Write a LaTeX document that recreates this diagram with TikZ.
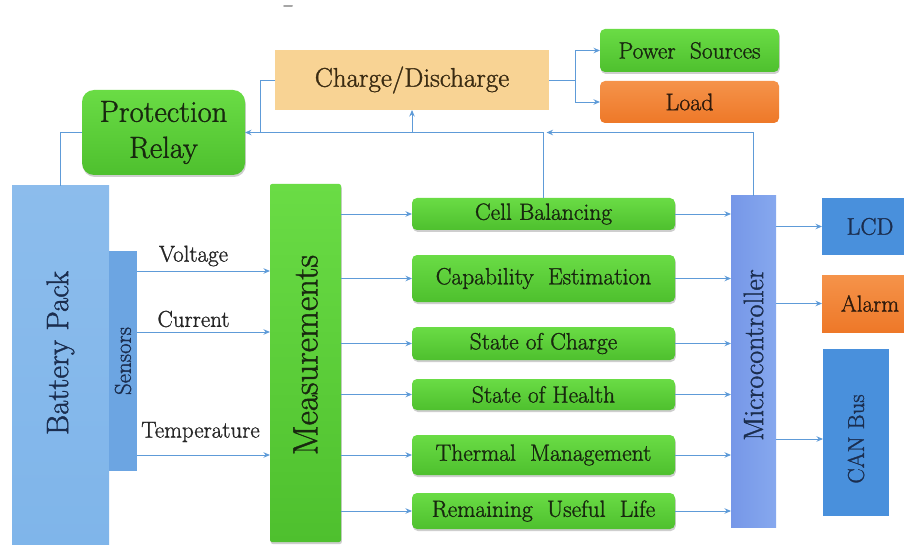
\documentclass[tikz,border=0pt]{standalone}
\usepackage{fontspec}
\usepackage{graphicx}
\setmainfont{Latin Modern Roman}[FakeBold=1.2]
\usetikzlibrary{arrows.meta,calc,shadows}

\definecolor{wireC}{HTML}{5E9BD8}
\definecolor{grnA}{HTML}{6ADC45}
\definecolor{grnB}{HTML}{4EC02E}
\definecolor{grnText}{HTML}{18280F}
\definecolor{chgFill}{HTML}{F8D394}
\definecolor{chgText}{HTML}{3A2B12}
\definecolor{orgA}{HTML}{F5934A}
\definecolor{orgB}{HTML}{EE7828}
\definecolor{orgText}{HTML}{2E1A0C}
\definecolor{batFill}{HTML}{7FB5EA}
\definecolor{senFill}{HTML}{6CA5E2}
\definecolor{mcA}{HTML}{7697E8}
\definecolor{mcB}{HTML}{86A8EE}
\definecolor{outFill}{HTML}{4990DC}
\definecolor{bluText}{HTML}{1B2D4E}

\begin{document}
\begin{tikzpicture}[x=1pt,y=-1pt,
  box/.style={inner sep=0pt, outer sep=0pt, align=center},
  greenbox/.style={box, rounded corners=5pt, top color=grnA, bottom color=grnB,
    text=grnText,
    drop shadow={shadow xshift=0.8pt, shadow yshift=-2pt, opacity=0.35, fill=black!55}},
  funcbox/.style={greenbox, minimum width=263pt, font=\fontsize{23.5}{26}\selectfont},
  bluebox/.style={box, fill=outFill, text=bluText},
  orangebox/.style={box, top color=orgA, bottom color=orgB, text=orgText},
  wire/.style={draw=wireC, line width=0.9pt},
  arr/.style={wire, -{Stealth[length=6.5pt,width=5.5pt]}},
  sig/.style={font=\fontsize{23}{25}\selectfont, text=black!85}
]
\path[use as bounding box] (0,0) rectangle (904,545);
\begin{scope}
\clip (0,0) rectangle (904,545);
\fill[white] (0,0) rectangle (904,545);

% small mark at the top edge
\draw[gray!70, line width=2pt, line cap=round] (284,6.5) -- (292,6.5);

% ---- upper row: power path ----
\node[box, fill=chgFill, text=chgText, minimum width=274pt, minimum height=60pt,
      font=\fontsize{27}{30}\selectfont] (chg) at (412,80) {Charge/Discharge};
\node[greenbox, minimum width=179pt, minimum height=43pt,
      font=\fontsize{23.5}{26}\selectfont] (pow) at (689.5,50.5) {Power\ \ Sources};
\node[orangebox, rounded corners=5pt, minimum width=179pt, minimum height=42pt,
      font=\fontsize{24}{26}\selectfont] (load) at (689.5,102) {Load};
\node[greenbox, rounded corners=12pt, minimum width=163pt, minimum height=85pt,
      font=\fontsize{30.5}{36}\selectfont] (relay) at (163.5,132.5) {Protection\\Relay};

% ---- pack and sensing ----
\node[box, top color=batFill!90!white, bottom color=batFill, minimum width=97pt, minimum height=362pt,
      text=bluText, font=\fontsize{31}{34}\selectfont] (bat) at (60.5,367) {\rotatebox{90}{\hspace{28pt}Battery Pack}};
\node[box, fill=senFill, minimum width=28pt, minimum height=219pt,
      text=bluText, font=\fontsize{23}{25}\selectfont] (sens) at (123,361) {\rotatebox{90}{Sensors}};
\node[greenbox, rounded corners=2pt, minimum width=71pt, minimum height=358pt,
      font=\fontsize{35}{38}\selectfont] (meas) at (305.5,363) {\rotatebox{90}{\hspace{16pt}Measurements}};

% ---- estimation functions ----
\node[funcbox, minimum height=32pt] (cb)  at (543.5,214)   {Cell Balancing};
\node[funcbox, minimum height=47pt] (ce)  at (543.5,278.5) {Capability\ \ Estimation};
\node[funcbox, minimum height=33pt] (soc) at (543.5,343.5) {State of Charge};
\node[funcbox, minimum height=31pt] (soh) at (543.5,394.5) {State of Health};
\node[funcbox, minimum height=40pt] (tm)  at (543.5,455)   {Thermal\ \ Management};
\node[funcbox, minimum height=36pt] (rul) at (543.5,511)   {Remaining\ \ Useful\ \ Life};

% ---- controller and outputs ----
\node[box, left color=mcA, right color=mcB, minimum width=45pt, minimum height=331pt,
      text=bluText, font=\fontsize{28}{30}\selectfont] (mc) at (753.5,361.5) {\rotatebox{90}{\hspace{13pt}Microcontroller}};
\node[bluebox, minimum width=96pt, minimum height=57pt,
      font=\fontsize{24}{26}\selectfont] (lcd) at (870,226.5) {LCD};
\node[orangebox, minimum width=96pt, minimum height=57pt,
      font=\fontsize{23}{25}\selectfont] (alarm) at (870,303.5) {Alarm};
\node[bluebox, minimum width=66pt, minimum height=167pt,
      font=\fontsize{23}{25}\selectfont] (can) at (856,432.5) {\rotatebox{90}{CAN Bus\hspace{13pt}}};

% ---- connectors: power path ----
\draw[wire] (bat.north) |- (relay.west);
\coordinate (busJ) at (cb.north |- relay.east);
\draw[arr] (mc.north) |- ([xshift=3pt]busJ);
\draw[arr] (cb.north) |- (relay.east);
\draw[arr] (chg.south |- relay.east) -- (chg.south);
\draw[wire] (chg.west) -| ([xshift=15pt]relay.east);
\draw[arr] (chg.east) -- ++(26,0) |- (pow.west);
\draw[arr] (chg.east) -- ++(26,0) |- (load.west);

% ---- connectors: sensing ----
\draw[arr] (sens.east |- 0,271) -- node[sig, xshift=-10pt, yshift=15pt] {Voltage} (meas.west |- 0,271);
\draw[arr] (sens.east |- 0,332) -- node[sig, xshift=-10pt, yshift=13pt] {Current} (meas.west |- 0,332);
\draw[arr] (sens.east |- 0,455) -- node[sig, xshift=-3pt, yshift=23pt] {Temperature} (meas.west |- 0,455);

% ---- connectors: measurements to functions to controller ----
\foreach \f in {cb,ce,soc,soh,tm,rul}{
  \draw[arr] (meas.east |- \f.west) -- (\f.west);
  \draw[arr] (\f.east) -- (mc.west |- \f.east);
}

% ---- connectors: outputs ----
\draw[arr] (mc.east |- lcd.west) -- (lcd.west);
\draw[arr] (mc.east |- alarm.west) -- (alarm.west);
\draw[arr] (mc.east |- 0,439) -- (can.west |- 0,439);
\end{scope}
\end{tikzpicture}
\end{document}
